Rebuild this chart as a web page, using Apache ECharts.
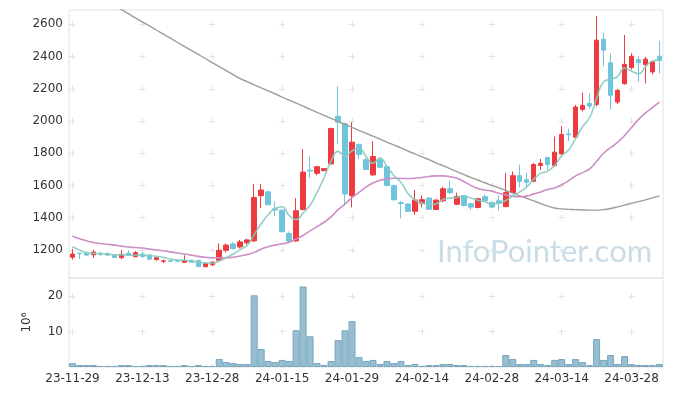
<!DOCTYPE html>
<html><head><meta charset="utf-8">
<script src="https://cdn.jsdelivr.net/npm/echarts@6/dist/echarts.min.js"></script>
<style>html,body{margin:0;padding:0;background:#fff}#c{width:673px;height:396px}</style>
</head><body><div id="c"></div>
<script>
var dates = ['23-11-29','23-11-30','23-12-01','23-12-04','23-12-05','23-12-06','23-12-07','23-12-08','23-12-11','23-12-12',
'23-12-13','23-12-14','23-12-15','23-12-18','23-12-19','23-12-20','23-12-21','23-12-22','23-12-26','23-12-27',
'23-12-28','24-01-02','24-01-03','24-01-04','24-01-05','24-01-08','24-01-09','24-01-10','24-01-11','24-01-12',
'24-01-15','24-01-16','24-01-17','24-01-18','24-01-19','24-01-22','24-01-23','24-01-24','24-01-25','24-01-26',
'24-01-29','24-01-30','24-01-31','24-02-01','24-02-02','24-02-05','24-02-06','24-02-07','24-02-08','24-02-13',
'24-02-14','24-02-15','24-02-16','24-02-19','24-02-20','24-02-21','24-02-22','24-02-23','24-02-26','24-02-27',
'24-02-28','24-02-29','24-03-04','24-03-05','24-03-06','24-03-07','24-03-08','24-03-11','24-03-12','24-03-13',
'24-03-14','24-03-15','24-03-18','24-03-19','24-03-20','24-03-21','24-03-22','24-03-25','24-03-26','24-03-27',
'24-03-28','24-03-29','24-04-01','24-04-02','24-04-03'];
var openP = [1155,1180,1185,1170,1180,1178,1167,1152,1180,1158,
1175,1168,1140,1130,1133,1134,1123,1136,1134,1096,
1108,1136,1198,1237,1219,1245,1256,1537,1561,1455,
1447,1302,1256,1451,1695,1676,1692,1734,2030,1983,
1537,1855,1760,1666,1760,1717,1600,1494,1485,1440,
1489,1522,1451,1505,1580,1483,1537,1487,1464,1530,
1495,1505,1469,1556,1661,1636,1626,1724,1773,1724,
1796,1920,1900,2072,2110,2103,2508,2361,2118,2232,
2332,2381,2350,2305,2402];
var closeP = [1175,1176,1168,1187,1173,1168,1153,1173,1168,1183,
1160,1143,1152,1133,1130,1130,1135,1124,1097,1115,
1125,1198,1230,1208,1250,1262,1525,1572,1480,1448,
1315,1255,1443,1683,1690,1717,1705,1954,1993,1547,
1869,1792,1700,1780,1713,1600,1512,1488,1440,1510,
1512,1452,1510,1580,1555,1532,1476,1466,1518,1505,
1466,1490,1556,1661,1626,1620,1730,1738,1730,1807,
1917,1915,2087,2097,2093,2502,2440,2160,2190,2352,
2402,2362,2384,2367,2375];
var lowP = [1140,1143,1162,1152,1162,1162,1150,1142,1165,1155,
1150,1140,1135,1118,1125,1125,1120,1120,1093,1093,
1100,1130,1185,1203,1210,1235,1250,1460,1478,1410,
1305,1248,1250,1445,1647,1662,1688,1730,1858,1474,
1464,1765,1695,1660,1708,1595,1505,1397,1436,1418,
1465,1448,1448,1496,1548,1478,1470,1448,1458,1498,
1460,1443,1465,1550,1588,1590,1620,1697,1697,1717,
1790,1875,1895,2060,2075,2090,2340,2070,2105,2225,
2318,2243,2233,2290,2295];
var highP = [1205,1183,1188,1200,1190,1185,1170,1200,1198,1193,
1188,1172,1155,1140,1138,1140,1167,1140,1140,1118,
1128,1240,1240,1250,1262,1270,1610,1610,1565,1501,
1450,1315,1522,1826,1780,1720,1708,1958,2215,1990,
1993,1860,1770,1875,1775,1722,1605,1505,1490,1572,
1540,1526,1512,1592,1630,1555,1540,1490,1522,1545,
1500,1537,1678,1687,1730,1680,1740,1765,1776,1904,
1968,1952,2100,2176,2170,2652,2548,2420,2200,2534,
2420,2400,2398,2375,2498];
var ma5 = [1220,1200,1183,1180,1176,1174,1170,1171,1167,1169,
1167,1165,1161,1154,1144,1138,1136,1130,1123,1120,
1119,1132,1153,1175,1202,1230,1295,1363,1418,1457,
1468,1414,1388,1429,1477,1558,1648,1750,1812,1783,
1814,1831,1780,1738,1771,1717,1661,1619,1551,1510,
1492,1480,1485,1513,1522,1526,1531,1522,1509,1499,
1486,1489,1507,1536,1560,1591,1639,1675,1689,1725,
1784,1821,1891,1965,2022,2139,2244,2258,2277,2329,
2309,2293,2338,2373,2378];
var ma20 = [1287,1270,1257,1246,1240,1235,1230,1224,1218,1215,
1212,1205,1200,1195,1188,1181,1175,1168,1160,1155,
1152,1152,1152,1155,1162,1172,1185,1205,1220,1230,
1238,1248,1268,1290,1318,1345,1372,1405,1450,1485,
1525,1557,1590,1615,1632,1641,1645,1643,1643,1645,
1650,1656,1660,1660,1655,1645,1625,1600,1582,1572,
1565,1552,1542,1534,1530,1534,1548,1560,1575,1585,
1605,1630,1660,1680,1703,1750,1800,1835,1868,1910,
1960,2010,2050,2085,2118];
var ma60 = [2868,2843,2818,2792,2767,2742,2716,2691,2666,2640,
2615,2590,2565,2539,2514,2489,2463,2438,2413,2388,
2363,2338,2313,2288,2263,2244,2225,2206,2187,2168,
2149,2130,2111,2092,2073,2054,2035,2016,1997,1979,
1961,1942,1924,1906,1888,1869,1851,1833,1814,1796,
1778,1760,1741,1723,1705,1686,1668,1650,1634,1617,
1601,1585,1569,1553,1536,1520,1504,1488,1472,1460,
1455,1452,1450,1448,1447,1447,1450,1457,1467,1478,
1490,1500,1511,1523,1536];
var volume = [1.1,0.55,0.55,0.55,0.3,0.3,0.3,0.55,0.55,0.3,
0.3,0.55,0.55,0.55,0.3,0.3,0.55,0.3,0.55,0.3,
0.3,2.25,1.4,1.1,0.85,0.85,20.3,5.1,1.7,1.4,
2.0,1.7,10.4,22.8,8.7,1.1,0.55,1.7,7.6,10.4,
13.0,2.8,1.7,2.0,0.85,1.7,1.1,1.7,0.55,0.85,
0.3,0.55,0.55,0.85,0.85,0.55,0.55,0.3,0.3,0.3,
0.3,0.3,3.4,2.25,0.85,0.85,2.0,0.85,0.55,2.0,
2.25,0.85,2.25,1.4,0.55,7.9,2.0,3.4,0.85,3.1,
0.85,0.55,0.55,0.55,0.85];

var ohlc = dates.map(function(d, i){ return [openP[i], closeP[i], lowP[i], highP[i]]; });

var FONT = 'DejaVu Sans';
var gridColor = '#e2e2e2';
var plain = function(v){ return String(v); };
var chart = echarts.init(document.getElementById('c'), null, {renderer: 'canvas'});
chart.setOption({
  animation: false,
  backgroundColor: '#fff',
  graphic: [{
    type: 'text', left: 437, top: 236, z: 0, silent: true,
    style: {text: 'InfoPointer.com', font: '31px Lato', fill: '#c9dce8'}
  }],
  grid: [
    {left: 69, right: 10, top: 10, height: 268, show: true, borderColor: gridColor, borderWidth: 1},
    {left: 69, right: 10, top: 278, height: 89, show: true, borderColor: gridColor, borderWidth: 1}
  ],
  xAxis: [
    {type: 'category', gridIndex: 0, data: dates, boundaryGap: true,
     axisLine: {show: false}, axisTick: {show: false}, axisLabel: {show: false},
     splitLine: {show: true, interval: 9, alignWithLabel: true, showMinLine: true,
       lineStyle: {color: gridColor, width: 1, type: [6, 26.23], dashOffset: 20.89}}},
    {type: 'category', gridIndex: 1, data: dates, boundaryGap: true,
     axisLine: {show: false}, axisTick: {show: false},
     axisLabel: {interval: 9, color: '#333', fontFamily: FONT, fontSize: 12, margin: 6},
     splitLine: {show: true, interval: 9, alignWithLabel: true,
       lineStyle: {color: gridColor, width: 1, type: [6, 29.32], dashOffset: 19.95}}}
  ],
  yAxis: [
    {type: 'value', gridIndex: 0, min: 1026, max: 2689, splitNumber: 8, scale: true,
     axisLine: {show: false}, axisTick: {show: false},
     axisLabel: {color: '#333', fontFamily: FONT, fontSize: 12, margin: 6, showMinLabel: false, showMaxLabel: false, formatter: plain},
     splitLine: {show: true, showMinLine: false, showMaxLine: false,
       lineStyle: {color: gridColor, width: 1, type: [6, 63.88], dashOffset: 69.39}}},
    {type: 'value', gridIndex: 1, min: 0, max: 25.2, splitNumber: 3,
     name: '10\u2076', nameLocation: 'middle', nameGap: 36, nameRotate: 90,
     nameTextStyle: {color: '#333', fontFamily: FONT, fontSize: 12},
     axisLine: {show: false}, axisTick: {show: false},
     axisLabel: {color: '#333', fontFamily: FONT, fontSize: 12, margin: 6, showMinLabel: false, showMaxLabel: false, formatter: plain},
     splitLine: {show: true, showMinLine: false, showMaxLine: false,
       lineStyle: {color: gridColor, width: 1, type: [6, 63.88], dashOffset: 69.39}}}
  ],
  series: [
    {type: 'candlestick', xAxisIndex: 0, yAxisIndex: 0, data: ohlc, barWidth: 5, z: 3,
     itemStyle: {color: '#ee3b3f', color0: '#6ec5dc', borderColor: '#ee3b3f', borderColor0: '#6ec5dc', borderWidth: 1}},
    {type: 'line', xAxisIndex: 0, yAxisIndex: 0, data: ma60, symbol: 'none', smooth: true, z: 4,
     lineStyle: {color: '#9d9d9d', width: 1.4}},
    {type: 'line', xAxisIndex: 0, yAxisIndex: 0, data: ma20, symbol: 'none', smooth: true, z: 4,
     lineStyle: {color: '#cc8ec6', width: 1.6}},
    {type: 'line', xAxisIndex: 0, yAxisIndex: 0, data: ma5, symbol: 'none', smooth: true, z: 4,
     lineStyle: {color: '#86cbbf', width: 1.6, opacity: 0.9}},
    {type: 'bar', xAxisIndex: 1, yAxisIndex: 1, data: volume, barCategoryGap: '0%', z: 3,
     itemStyle: {color: 'rgba(140,184,204,0.9)', borderColor: '#78a6bd', borderWidth: 1}}
  ]
});
</script></body></html>
